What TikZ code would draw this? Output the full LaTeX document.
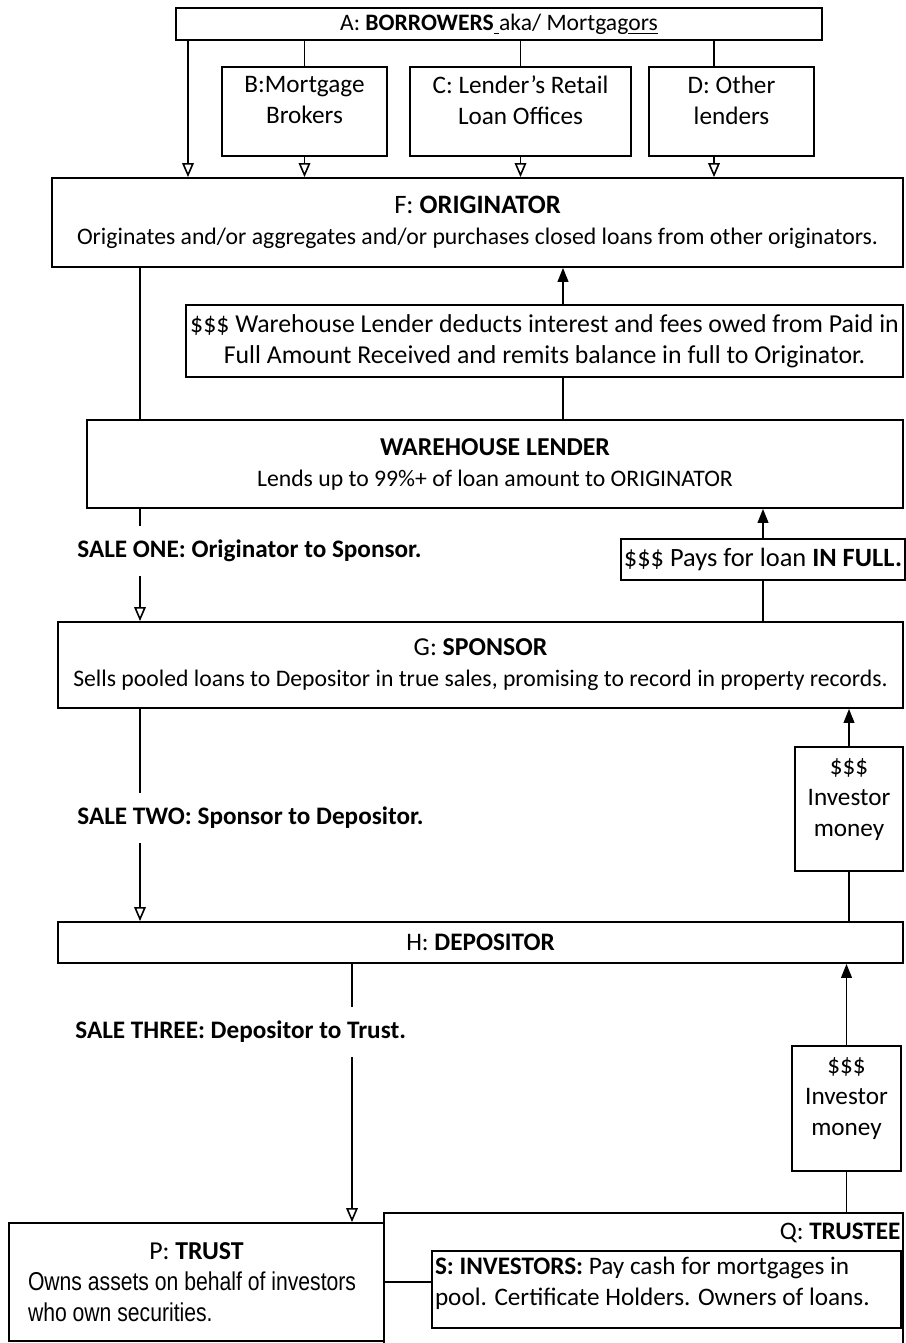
\documentclass[tikz,border=0pt]{standalone}
\usepackage{fontspec}
\setmainfont{Carlito}
\newfontfamily\narrowfont[FakeStretch=0.82]{Liberation Sans}
\usepackage{tikz}
\usetikzlibrary{arrows.meta,positioning}
\newcommand{\bodysize}{\fontsize{11.85}{15.5}\selectfont}
\newcommand{\bigsize}{\fontsize{12.6}{15.5}\selectfont}
\newcommand{\headsize}{\fontsize{12.9}{15.5}\selectfont}
\newcommand{\dropstrut}[1]{\rule[-#1]{0pt}{#1}}

\begin{document}
\begin{tikzpicture}[
  x=0.5pt,y=-0.5pt,
  base/.style={draw,line width=0.9pt,align=center,inner sep=1.5pt,font=\bigsize},
  party/.style={base,font=\bodysize},
  salelabel/.style={anchor=west,font=\bigsize\bfseries,minimum height=25pt,inner xsep=0pt},
  line/.style={line width=0.8pt},
  arrdown/.style={line,-{Triangle[open,length=7pt,width=5.8pt]}},
  arrup/.style={line,-{Triangle[length=7pt,width=5.4pt]}}
]
\useasboundingbox (0,0) rectangle (905,1343);

\node[base,font=\fontsize{11.8}{15.5}\selectfont,minimum width=323pt,minimum height=16pt] (borrowers) at (499,24) {A: \textbf{BORROWERS}\underline{\ }aka/ Mortgag\underline{ors}};
\node[base,minimum width=82.5pt,minimum height=44.5pt] (brokers) at (304.5,111.5) {B:Mortgage\\Brokers\dropstrut{11.5pt}};
\node[base,minimum width=110.5pt,minimum height=44.5pt] (retail) at (520.5,111.5) {C: Lender's Retail\\Loan Offices\dropstrut{11.5pt}};
\node[base,minimum width=82.5pt,minimum height=44.5pt] (others) at (731.5,111.5) {D: Other\\lenders\dropstrut{11.5pt}};

\node[party,minimum width=425.5pt,minimum height=44.5pt] (originator) at (477.5,222.5) {{\fontsize{13.3}{15.5}\selectfont F: \textbf{ORIGINATOR}}\\Originates and/or aggregates and/or purchases closed loans from other originators.};
\node[base,font=\fontsize{12.9}{15.5}\selectfont,minimum width=358.5pt,minimum height=36pt] (deduct) at (544.5,341) {\$\$\$ Warehouse Lender deducts interest and fees owed from Paid in\\Full Amount Received and remits balance in full to Originator.};
\node[party,minimum width=408pt,minimum height=44pt] (warehouse) at (495,464) {{\headsize\textbf{WAREHOUSE LENDER}}\\Lends up to 99\%+ of loan amount to ORIGINATOR};
\node[base,font=\fontsize{13.2}{15.5}\selectfont,minimum width=140pt,minimum height=20.5pt] (pays) at (763,559.5) {\$\$\$ Pays for loan \textbf{IN FULL.}};
\node[party,minimum width=422.5pt,minimum height=43pt] (sponsor) at (480.5,665) {{\headsize G: \textbf{SPONSOR}}\\Sells pooled loans to Depositor in true sales, promising to record in property records.};
\node[base,minimum width=54pt,minimum height=62pt] (investcash) at (849,809) {\$\$\$\\Investor\\money\dropstrut{11pt}};
\node[base,minimum width=422.5pt,minimum height=20.5pt] (depositor) at (480.5,942.5) {H: \textbf{DEPOSITOR}};
\node[base,minimum width=54.5pt,minimum height=62.5pt] (trustcash) at (846.5,1108.5) {\$\$\$\\Investor\\money\dropstrut{12pt}};

\node[base,minimum width=259.5pt,minimum height=69pt] (trustee) at (643.5,1282) {};
\node[font=\bigsize,anchor=north east,inner xsep=1.5pt,inner ysep=5pt] (trusteelabel) at (trustee.north east) {Q: \textbf{TRUSTEE}};
\node[base,minimum width=187.5pt,minimum height=59pt] (trust) at (196.5,1282) {{\headsize P: \textbf{TRUST}}\\\makebox[168.5pt][l]{\narrowfont\fontsize{12.9}{15.25}\selectfont Owns assets on behalf of investors}\\\makebox[168.5pt][l]{\narrowfont\fontsize{12.9}{15.25}\selectfont who own securities.}};
\node[base,fill=white,text width=231.5pt,minimum height=38.5pt,align=flush left] (investors) at (666.5,1289.5) {\textbf{S: INVESTORS:} Pay cash for mortgages in\\pool. Certificate Holders. Owners of loans.\dropstrut{8pt}};

\node[salelabel] (saleone) at (77,551) {SALE ONE: Originator to Sponsor.};
\node[salelabel] (saletwo) at (77,818) {SALE TWO: Sponsor to Depositor.};
\node[salelabel] (salethree) at (75,1032) {SALE THREE: Depositor to Trust.};

\coordinate (direct) at (188,0);
\coordinate (otherdrop) at (714,0);
\coordinate (spine) at (140,0);
\coordinate (spinelow) at (352,0);
\coordinate (warecash) at (563,0);

\draw[line] (brokers.north |- borrowers.south) -- (brokers.north);
\draw[line] (retail.north |- borrowers.south) -- (retail.north);
\draw[line] (borrowers.south -| otherdrop) -- (others.north -| otherdrop);
\draw[arrdown] (borrowers.south -| direct) -- (originator.north -| direct);
\draw[arrdown] (brokers.south) -- (brokers.south |- originator.north);
\draw[arrdown] (retail.south) -- (retail.south |- originator.north);
\draw[arrdown] (others.south -| otherdrop) -- (originator.north -| otherdrop);

\draw[line] (originator.south -| spine) -- (warehouse.north -| spine);
\draw[line] (warehouse.south -| spine) -- (saleone.north -| spine);
\draw[arrdown] (saleone.south -| spine) -- (sponsor.north -| spine);
\draw[line] (sponsor.south -| spine) -- (saletwo.north -| spine);
\draw[arrdown] (saletwo.south -| spine) -- (depositor.north -| spine);
\draw[line] (depositor.south -| spinelow) -- (salethree.north -| spinelow);
\draw[arrdown] (salethree.south -| spinelow) -- (trust.north -| spinelow);

\draw[arrup] (deduct.north -| warecash) -- (originator.south -| warecash);
\draw[line] (warehouse.north -| warecash) -- (deduct.south -| warecash);
\draw[arrup] (pays.north) -- (pays.north |- warehouse.south);
\draw[line] (sponsor.north -| pays.south) -- (pays.south);
\draw[arrup] (investcash.north) -- (investcash.north |- sponsor.south);
\draw[line] (depositor.north -| investcash.south) -- (investcash.south);
\draw[arrup] (trustcash.north) -- (trustcash.north |- depositor.south);
\draw[line] (trustee.north -| trustcash.south) -- (trustcash.south);
\draw[line] (trust.east) -- (trust.east -| investors.west);
\end{tikzpicture}
\end{document}
